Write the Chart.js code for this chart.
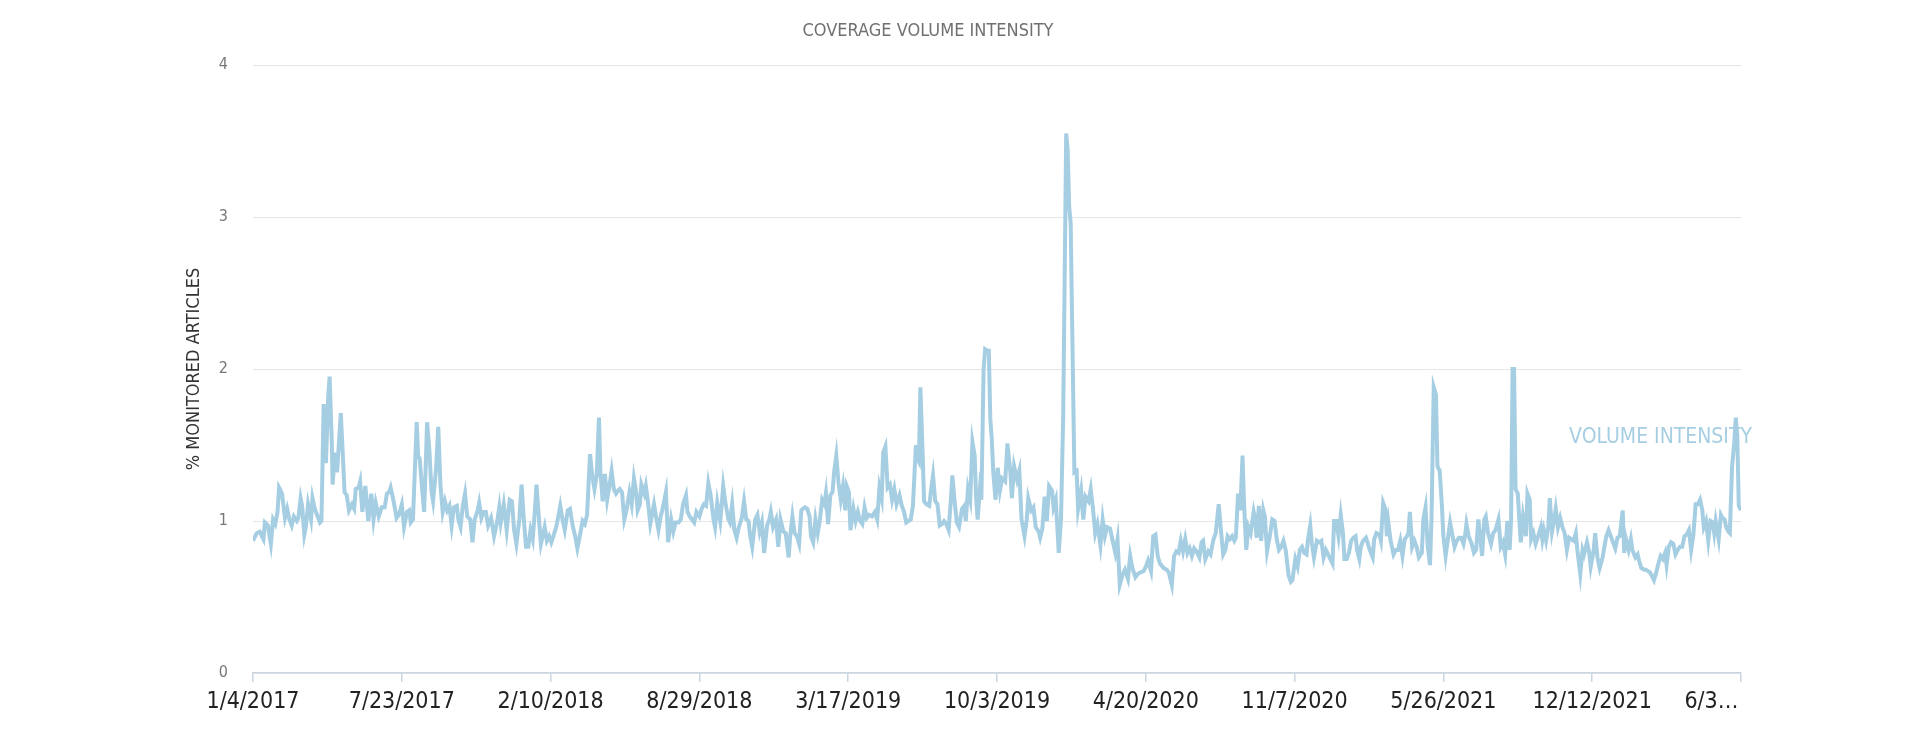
<!DOCTYPE html>
<html>
<head>
<meta charset="utf-8">
<title>Coverage Volume Intensity</title>
<script src="https://cdn.jsdelivr.net/npm/chart.js@4.4.1/dist/chart.umd.min.js"></script>
<style>
  html, body { margin: 0; padding: 0; background: #fff; }
  #wrap { width: 1922px; height: 740px; position: relative; }
</style>
</head>
<body>
<div id="wrap"><canvas id="chart"></canvas></div>
<script>
const CHART_TITLE = 'COVERAGE VOLUME INTENSITY';
const SERIES_NAME = 'Volume Intensity';
const Y_TITLE = '% MONITORED ARTICLES';

// x tick labels, one every 200 days from 1/4/2017 (the last one is cut off in the original)
const tickLabels = ['1/4/2017', '7/23/2017', '2/10/2018', '8/29/2018', '3/17/2019', '10/3/2019',
    '4/20/2020', '11/7/2020', '5/26/2021', '12/12/2021', '6/3…         '];

// days since 1/4/2017 of each reading
const days = [
    0, 5, 9, 14, 16, 20, 24, 27, 30, 33,
    35, 39, 43, 46, 49, 52, 55, 59, 61, 64,
    66, 69, 71, 74, 78, 80, 83, 87, 90, 92,
    95, 98, 101, 103, 106, 107, 110, 113, 118, 121,
    123, 126, 129, 133, 136, 138, 142, 144, 147, 151,
    155, 159, 162, 165, 169, 173, 177, 180, 183, 185,
    189, 193, 196, 200, 203, 207, 210, 212, 215, 220,
    222, 224, 227, 230, 232, 234, 237, 240, 242, 246,
    249, 252, 255, 258, 261, 264, 267, 270, 274, 276,
    279, 282, 285, 288, 292, 295, 298, 302, 304, 307,
    310, 313, 316, 320, 324, 328, 331, 333, 337, 341,
    345, 348, 351, 354, 358, 361, 364, 367, 370, 373,
    376, 379, 381, 385, 387, 392, 395, 398, 401, 405,
    408, 413, 416, 419, 423, 426, 430, 433, 436, 440,
    443, 446, 449, 453, 456, 459, 462, 465, 467, 470,
    473, 476, 479, 482, 485, 488, 491, 493, 496, 499,
    502, 506, 509, 512, 515, 517, 520, 522, 526, 528,
    531, 534, 536, 539, 542, 545, 548, 551, 555, 558,
    562, 565, 568, 572, 575, 578, 582, 584, 587, 590,
    593, 596, 600, 603, 606, 609, 612, 615, 619, 621,
    624, 628, 630, 632, 635, 639, 641, 644, 647, 650,
    653, 657, 660, 663, 666, 668, 671, 675, 678, 681,
    684, 687, 691, 694, 696, 699, 703, 706, 709, 713,
    716, 720, 722, 725, 728, 731, 734, 737, 739, 742,
    745, 748, 750, 753, 756, 759, 762, 765, 768, 770,
    773, 776, 779, 781, 784, 787, 790, 793, 796, 798,
    801, 803, 807, 810, 813, 816, 819, 822, 825, 828,
    832, 836, 839, 842, 845, 847, 850, 853, 856, 859,
    862, 865, 869, 872, 875, 878, 881, 884, 887, 891,
    893, 895, 897, 900, 902, 905, 909, 911, 914, 917,
    920, 923, 926, 929, 931, 935, 938, 940, 943, 946,
    949, 953, 956, 958, 961, 964, 967, 970, 972, 974,
    977, 979, 982, 984, 987, 989, 991, 993, 995, 998,
    1001, 1004, 1007, 1011, 1014, 1018, 1020, 1023, 1027, 1030,
    1033, 1037, 1040, 1042, 1046, 1049, 1052, 1056, 1058, 1061,
    1064, 1067, 1070, 1074, 1076, 1079, 1083, 1086, 1089, 1093,
    1095, 1097, 1099, 1104, 1107, 1109, 1113, 1116, 1119, 1123,
    1126, 1129, 1132, 1135, 1139, 1142, 1145, 1148, 1152, 1155,
    1159, 1162, 1165, 1169, 1172, 1176, 1179, 1182, 1186, 1189,
    1192, 1197, 1200, 1203, 1207, 1210, 1213, 1216, 1219, 1224,
    1228, 1231, 1235, 1238, 1241, 1244, 1247, 1250, 1253, 1256,
    1259, 1262, 1265, 1268, 1272, 1275, 1277, 1280, 1284, 1287,
    1291, 1294, 1298, 1301, 1304, 1307, 1310, 1313, 1316, 1319,
    1321, 1324, 1327, 1330, 1332, 1335, 1338, 1341, 1345, 1347,
    1349, 1352, 1355, 1358, 1360, 1363, 1367, 1370, 1373, 1376,
    1379, 1382, 1385, 1388, 1392, 1395, 1397, 1401, 1404, 1407,
    1410, 1413, 1416, 1418, 1421, 1423, 1426, 1430, 1433, 1436,
    1439, 1442, 1444, 1448, 1451, 1453, 1456, 1459, 1462, 1465,
    1467, 1470, 1473, 1476, 1479, 1482, 1484, 1487, 1489, 1492,
    1496, 1498, 1501, 1505, 1507, 1510, 1514, 1516, 1519, 1522,
    1524, 1526, 1529, 1533, 1536, 1539, 1542, 1545, 1548, 1551,
    1553, 1555, 1558, 1561, 1564, 1567, 1571, 1573, 1576, 1579,
    1582, 1584, 1587, 1590, 1592, 1595, 1598, 1600, 1603, 1606,
    1609, 1612, 1615, 1618, 1621, 1624, 1627, 1629, 1631, 1634,
    1638, 1641, 1644, 1647, 1650, 1652, 1655, 1657, 1660, 1664,
    1667, 1670, 1674, 1677, 1680, 1683, 1686, 1689, 1691, 1693,
    1695, 1697, 1700, 1702, 1704, 1707, 1711, 1713, 1716, 1718,
    1721, 1724, 1728, 1731, 1733, 1735, 1738, 1741, 1743, 1746,
    1749, 1751, 1754, 1757, 1760, 1763, 1766, 1769, 1772, 1775,
    1778, 1780, 1784, 1787, 1789, 1793, 1796, 1798, 1802, 1804,
    1807, 1810, 1814, 1816, 1819, 1822, 1825, 1828, 1831, 1834,
    1837, 1841, 1843, 1845, 1849, 1852, 1854, 1858, 1861, 1863,
    1866, 1870, 1872, 1875, 1878, 1880, 1883, 1886, 1889, 1892,
    1895, 1898, 1900, 1903, 1906, 1909, 1912, 1915, 1918, 1921,
    1924, 1927, 1930, 1933, 1936, 1939, 1942, 1945, 1948, 1950,
    1953, 1956, 1959, 1962, 1964, 1966, 1970, 1973, 1975, 1978,
    1980, 1983, 1985, 1988, 1991, 1993, 1995, 1997, 2000
];

// % of monitored articles, same order as days
const volumeIntensity = [
    .87, .92, .93, .88, .99, .97, .85, 1.01, .98, 1.06,
    1.22, 1.18, 1.02, 1.08, 1.01, .97, 1.03, 1.0, 1.02, 1.15,
    1.10, .91, .96, 1.11, 1.01, 1.15, 1.08, 1.03, .99, 1.0,
    1.77, 1.38, 1.81, 1.95, 1.50, 1.24, 1.45, 1.32, 1.71, 1.41,
    1.19, 1.17, 1.07, 1.11, 1.08, 1.21, 1.22, 1.26, 1.06, 1.23,
    1.0, 1.18, 1.01, 1.12, 1.03, 1.09, 1.09, 1.18, 1.19, 1.22,
    1.13, 1.02, 1.04, 1.11, .96, 1.06, 1.07, .99, 1.01, 1.65,
    1.43, 1.41, 1.23, 1.06, 1.34, 1.65, 1.47, 1.19, 1.13, 1.34,
    1.62, 1.23, 1.06, 1.13, 1.07, 1.10, .97, 1.09, 1.10, 1.01,
    .96, 1.10, 1.18, 1.03, 1.01, .86, 1.01, 1.07, 1.12, 1.02,
    1.06, 1.06, .97, 1.02, .90, .99, 1.09, .99, 1.11, .94,
    1.14, 1.13, .94, .85, 1.01, 1.24, 1.01, .83, .83, .94,
    .88, 1.08, 1.24, .97, .85, .96, .87, .90, .86, .92,
    .97, 1.10, 1.01, .94, 1.07, 1.08, .96, .90, .82, .92,
    1.0, .98, 1.04, 1.44, 1.30, 1.21, 1.30, 1.68, 1.32, 1.13,
    1.31, 1.14, 1.23, 1.33, 1.21, 1.18, 1.20, 1.21, 1.19, 1.01,
    1.07, 1.19, 1.11, 1.28, 1.19, 1.07, 1.11, 1.24, 1.18, 1.23,
    1.12, .98, 1.03, 1.11, 1.02, .94, 1.03, 1.09, 1.19, .86,
    1.01, .93, .99, .99, 1.01, 1.11, 1.17, 1.06, 1.03, 1.01,
    .99, 1.06, 1.03, 1.08, 1.11, 1.10, 1.25, 1.17, 1.01, .96,
    1.12, 1.0, 1.11, 1.23, 1.12, 1.01, .99, 1.11, .94, .89,
    .96, 1.02, 1.13, 1.01, 1.0, .91, .83, 1.01, 1.04, .93,
    .99, .79, .97, 1.01, 1.06, .96, 1.01, .83, 1.01, .93,
    .92, .76, .90, 1.03, .92, .90, .85, 1.07, 1.08, 1.09,
    1.08, 1.03, .90, .86, 1.01, .92, 1.01, 1.14, 1.11, 1.18,
    .98, 1.17, 1.19, 1.32, 1.43, 1.25, 1.14, 1.23, 1.07, 1.23,
    1.19, .94, 1.08, 1.0, 1.06, 1.0, .98, 1.09, 1.02, 1.04,
    1.03, 1.06, 1.01, 1.22, 1.15, 1.45, 1.49, 1.22, 1.24, 1.14,
    1.21, 1.11, 1.17, 1.10, 1.06, .99, 1.0, 1.01, 1.10, 1.50,
    1.41, 1.39, 1.88, 1.45, 1.13, 1.11, 1.10, 1.19, 1.30, 1.13,
    1.11, .97, .98, 1.0, .99, .94, 1.14, 1.30, 1.13, .99,
    .96, 1.08, 1.10, 1.0, 1.21, 1.14, 1.52, 1.43, 1.14, 1.01,
    1.21, 1.14, 2.0, 2.13, 2.12, 2.12, 1.67, 1.54, 1.32, 1.14,
    1.35, 1.20, 1.28, 1.26, 1.51, 1.32, 1.15, 1.36, 1.27, 1.33,
    1.01, .90, 1.01, 1.15, 1.07, 1.09, .96, .93, .89, .95,
    1.16, 1.0, 1.23, 1.20, 1.09, 1.14, .79, 1.01, 1.70, 3.55,
    3.44, 3.07, 2.96, 1.32, 1.33, 1.08, 1.20, 1.01, 1.16, 1.13,
    1.21, 1.08, .92, .98, .84, 1.01, .90, .96, .95, .88,
    .79, .88, .58, .65, .68, .62, .77, .69, .63, .65,
    .66, .67, .70, .74, .67, .90, .91, .77, .72, .69,
    .68, .66, .58, .77, .80, .79, .87, .80, .88, .79,
    .82, .77, .82, .80, .76, .86, .87, .75, .80, .78,
    .88, .92, 1.11, .94, .78, .81, .90, .88, .90, .87,
    .89, 1.18, 1.07, 1.43, 1.12, .81, .96, .92, 1.06, 1.01,
    .89, 1.10, .87, 1.07, 1.03, .80, .91, 1.01, 1.0, .88,
    .81, .83, .87, .81, .64, .60, .61, .75, .70, .81,
    .83, .79, .78, .88, .97, .86, .76, .87, .86, .87,
    .76, .81, .79, .75, .72, 1.0, 1.0, .90, 1.04, .92,
    .75, .75, .79, .87, .89, .90, .81, .75, .83, .87,
    .89, .86, .81, .76, .88, .92, .91, .87, 1.12, 1.08,
    .90, .99, .87, .78, .81, .81, .87, .77, .88, .90,
    .92, 1.06, .83, .87, .83, .76, .79, 1.01, 1.09, .83,
    .71, 1.01, 1.88, 1.83, 1.36, 1.33, 1.10, .90, .77, .88,
    .99, .91, .83, .87, .89, .89, .85, .90, .98, .90,
    .85, .79, .81, 1.01, .87, .77, 1.01, 1.03, .92, .85,
    .92, .94, 1.01, .83, .86, .78, 1.0, .81, 1.01, 2.0,
    2.0, 1.21, 1.18, 1.01, .86, 1.03, .90, 1.18, 1.14, .88,
    .92, .85, .91, .96, .88, .94, .87, .96, 1.15, .93,
    1.01, 1.08, .96, 1.02, .96, .92, .81, .89, .88, .87,
    .92, .81, .65, .81, .78, .86, .79, .70, .81, .92,
    .76, .69, .76, .82, .90, .94, .90, .86, .82, .89,
    .90, 1.07, .79, .89, .81, .88, .81, .76, .78, .74,
    .69, .68, .68, .67, .66, .64, .61, .66, .72, .77,
    .75, .79, .71, .83, .86, .85, .78, .81, .83, .83,
    .90, .91, .94, .81, .91, 1.11, 1.11, 1.14, 1.07, .96,
    1.0, .87, 1.0, .99, .92, 1.0, .88, 1.04, 1.02, 1.01,
    .96, .93, .92, 1.36, 1.52, 1.68, 1.56, 1.10, 1.07
];

const LINE_COLOR = '#a6cee3';
const AXIS_COLOR = '#c9d5e1';
const FONT = "'Liberation Sans Narrow', 'DejaVu Sans Condensed', 'Roboto', sans-serif";

// the chart title and the series name written at the end of the line
const textPlugin = {
    id: 'textPlugin',
    beforeDatasetsDraw(chart) {
        const { ctx, chartArea, scales } = chart;
        ctx.save();
        ctx.font = '18px ' + FONT;
        ctx.fillStyle = '#707070';
        ctx.textAlign = 'center';
        ctx.textBaseline = 'middle';
        ctx.fillText(CHART_TITLE, 928, 31);

        ctx.font = '21px ' + FONT;
        ctx.fillStyle = LINE_COLOR;
        ctx.textAlign = 'right';
        ctx.fillText(SERIES_NAME.toUpperCase(), chartArea.right + 11, scales.y.getPixelForValue(1.55));
        ctx.restore();
    }
};

const points = days.map((d, i) => ({ x: d, y: volumeIntensity[i] }));

new Chart(document.getElementById('chart'), {
    type: 'line',
    data: {
        datasets: [{
            label: SERIES_NAME,
            data: points,
            borderColor: LINE_COLOR,
            backgroundColor: LINE_COLOR,
            borderWidth: 4,
            pointRadius: 0,
            tension: 0,
            fill: false
        }]
    },
    plugins: [textPlugin],
    options: {
        responsive: true,
        maintainAspectRatio: false,
        animation: false,
        devicePixelRatio: 1,
        layout: {
            padding: { top: 65, right: 181, bottom: 0, left: 0 }
        },
        plugins: {
            legend: { display: false },
            title: { display: false },
            tooltip: { enabled: false }
        },
        scales: {
            x: {
                type: 'linear',
                min: 0,
                max: 2000,
                afterFit: (scale) => { scale.height = 67; },
                ticks: {
                    stepSize: 200,
                    autoSkip: false,
                    maxRotation: 0,
                    padding: 6,
                    color: '#222',
                    font: { family: FONT, size: 23 },
                    callback: (value) => tickLabels[value / 200]
                },
                grid: {
                    drawOnChartArea: false,
                    drawTicks: true,
                    tickLength: 9,
                    color: AXIS_COLOR,
                    lineWidth: 1.5
                },
                border: { display: true, color: AXIS_COLOR, width: 1.5 }
            },
            y: {
                min: 0,
                max: 4,
                afterFit: (scale) => { scale.width = 253; },
                ticks: {
                    stepSize: 1,
                    padding: 25,
                    color: '#777',
                    font: { family: FONT, size: 16 }
                },
                grid: {
                    color: '#e6e6e6',
                    drawTicks: false,
                    lineWidth: 1
                },
                border: { display: false },
                title: {
                    display: true,
                    text: Y_TITLE,
                    color: '#333',
                    font: { family: FONT, size: 18 },
                    padding: { top: 184, bottom: 0 }
                }
            }
        }
    }
});
</script>
</body>
</html>
